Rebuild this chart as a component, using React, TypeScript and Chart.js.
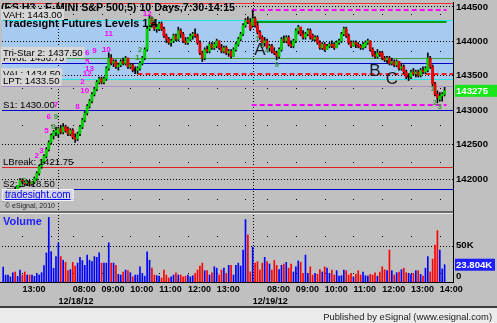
import React, { useEffect, useRef } from 'react';
import { Chart, registerables } from 'chart.js';

Chart.register(...registerables);

const SANS = "'Liberation Sans', Arial, Helvetica, sans-serif";

// ---------- text ----------
const chartTitle = '(ES H3 - E-MINI S&P 500,5) 10 Days,7:30-14:15';
const chartSubtitle = 'Tradesight Futures Levels 1.4';
const footerText = 'Published by eSignal (www.esignal.com)';

// ---------- sessions ----------
const sessionDates = ['12/17/12', '12/18/12', '12/19/12'];
const sessionFirstBar = ['12:20', '07:30', '07:30'];

// ---------- 5-minute bars [open, high, low, close] ----------
const dec17Bars = [
  [141725, 141775, 141675, 141725], [141750, 141800, 141700, 141775], [141775, 141850, 141750, 141800],
  [141800, 141850, 141750, 141800], [141800, 141850, 141775, 141825], [141825, 141875, 141775, 141800],
  [141800, 141900, 141800, 141900], [141900, 142000, 141875, 141975], [141975, 142000, 141925, 141950],
  [141950, 141975, 141900, 141925], [141925, 141975, 141900, 141950], [141950, 141975, 141900, 141925],
  [141925, 141950, 141900, 141950], [141950, 142025, 141925, 142000], [142000, 142100, 141975, 142075],
  [142075, 142200, 142050, 142175], [142175, 142275, 142150, 142250], [142250, 142350, 142225, 142325],
  [142325, 142450, 142300, 142425], [142425, 142550, 142400, 142525], [142525, 142650, 142500, 142625],
  [142625, 142700, 142575, 142675], [142675, 142750, 142625, 142700],
];

const dec18Bars = [
  [142650, 142750, 142600, 142725], [142725, 142775, 142650, 142675], [142675, 142800, 142650, 142750],
  [142750, 142775, 142675, 142700], [142725, 142750, 142625, 142650], [142650, 142725, 142625, 142700],
  [142700, 142725, 142575, 142600], [142600, 142650, 142525, 142575], [142575, 142675, 142550, 142650],
  [142650, 142775, 142625, 142750], [142750, 142875, 142725, 142850], [142850, 142975, 142825, 142950],
  [142950, 143075, 142925, 143050], [143050, 143150, 143025, 143125], [143125, 143250, 143100, 143225],
  [143225, 143325, 143200, 143300], [143300, 143425, 143275, 143400], [143400, 143475, 143375, 143450],
  [143450, 143475, 143375, 143400], [143400, 143475, 143375, 143450], [143450, 143625, 143425, 143600],
  [143600, 143825, 143575, 143750], [143750, 143800, 143650, 143675], [143675, 143725, 143625, 143700],
  [143700, 143725, 143600, 143625], [143625, 143675, 143575, 143650], [143650, 143725, 143625, 143700],
  [143700, 143750, 143650, 143675], [143675, 143775, 143650, 143750], [143750, 143750, 143600, 143625],
  [143625, 143675, 143600, 143650], [143650, 143675, 143550, 143575], [143575, 143625, 143525, 143575],
  [143575, 143625, 143525, 143600], [143600, 143700, 143575, 143675], [143675, 143775, 143650, 143750],
  [143750, 143900, 143725, 143875], [143875, 144200, 143850, 144175], [144175, 144375, 144150, 144325],
  [144325, 144350, 144200, 144250], [144250, 144275, 144150, 144175], [144175, 144225, 144125, 144200],
  [144175, 144275, 144150, 144250], [144250, 144275, 144150, 144175], [144175, 144200, 144050, 144075],
  [144075, 144100, 143975, 144025], [144025, 144050, 143950, 143975], [143975, 144025, 143925, 144000],
  [144000, 144100, 143975, 144075], [144075, 144100, 144000, 144025], [144025, 144200, 144000, 144150],
  [144150, 144175, 144050, 144100], [144100, 144125, 143975, 144000], [144000, 144050, 143950, 143975],
  [143975, 144050, 143950, 144025], [144025, 144100, 144000, 144075], [144075, 144125, 144025, 144100],
  [144100, 144175, 144050, 144075], [144075, 144100, 143950, 143975], [143975, 144000, 143800, 143825],
  [143825, 143850, 143700, 143750], [143750, 143900, 143725, 143875], [143875, 143925, 143825, 143850],
  [143850, 143975, 143825, 143950], [143950, 143975, 143875, 143900], [143900, 143975, 143875, 143950],
  [143925, 144025, 143900, 144000], [144000, 144000, 143875, 143900], [143900, 143950, 143825, 143850],
  [143850, 143925, 143825, 143900], [143900, 143925, 143800, 143825], [143825, 143875, 143775, 143850],
  [143850, 143875, 143750, 143775], [143775, 143900, 143775, 143875], [143875, 143975, 143850, 143950],
  [143950, 144050, 143925, 144025], [144025, 144125, 144000, 144100], [144100, 144250, 144075, 144225],
  [144225, 144325, 144200, 144300], [144300, 144350, 144250, 144275], [144275, 144325, 144150, 144175],
];

const dec19Bars = [
  [144225, 144450, 144200, 144325], [144325, 144350, 144200, 144225], [144225, 144275, 144100, 144125],
  [144125, 144150, 144025, 144050], [144050, 144075, 143950, 143975], [143975, 144050, 143925, 144000],
  [144000, 144025, 143875, 143900], [143900, 143950, 143850, 143925], [143925, 143950, 143825, 143850],
  [143850, 143900, 143800, 143825], [143825, 143850, 143725, 143775], [143775, 143900, 143750, 143875],
  [143875, 144050, 143850, 144025], [144025, 144075, 143975, 144000], [144000, 144075, 143975, 144050],
  [144050, 144075, 143925, 143950], [143950, 144000, 143900, 143925], [143925, 144025, 143900, 144000],
  [144000, 144175, 143975, 144150], [144150, 144225, 144100, 144200], [144200, 144200, 144075, 144100],
  [144100, 144150, 144025, 144050], [144050, 144125, 144025, 144100], [144100, 144175, 144075, 144150],
  [144150, 144175, 144025, 144050], [144075, 144100, 144000, 144025], [144025, 144075, 144000, 144050],
  [144050, 144075, 143950, 143975], [143975, 144000, 143875, 143900], [143900, 143975, 143875, 143950],
  [143950, 143975, 143850, 143875], [143875, 143950, 143875, 143925], [143925, 143975, 143900, 143950],
  [143950, 144000, 143900, 143925], [143950, 143975, 143875, 143900], [143900, 144000, 143900, 143975],
  [143975, 144025, 143950, 144000], [144000, 144125, 143975, 144100], [144100, 144200, 144075, 144175],
  [144175, 144200, 144050, 144075], [144075, 144100, 143950, 143975], [143975, 144000, 143900, 143925],
  [143925, 144000, 143925, 143975], [143975, 144000, 143900, 143950], [143950, 143975, 143900, 143925],
  [143925, 143950, 143875, 143900], [143900, 143975, 143875, 143950], [143925, 144000, 143900, 143975],
  [143975, 144025, 143950, 144000], [144000, 144000, 143850, 143875], [143875, 143900, 143775, 143800],
  [143800, 143850, 143750, 143775], [143775, 143875, 143750, 143825], [143825, 143850, 143775, 143800],
  [143825, 143850, 143725, 143750], [143750, 143775, 143700, 143725], [143725, 143775, 143675, 143750],
  [143750, 143775, 143650, 143675], [143675, 143750, 143650, 143700], [143700, 143725, 143625, 143650],
  [143650, 143725, 143625, 143700], [143700, 143700, 143575, 143600], [143600, 143675, 143575, 143625],
  [143625, 143650, 143525, 143550], [143550, 143575, 143450, 143475], [143475, 143525, 143425, 143475],
  [143475, 143575, 143450, 143550], [143550, 143600, 143500, 143525], [143525, 143575, 143475, 143550],
  [143550, 143575, 143475, 143500], [143500, 143600, 143475, 143575], [143575, 143625, 143525, 143550],
  [143550, 143625, 143525, 143600], [143575, 143825, 143550, 143750], [143750, 143775, 143600, 143625],
  [143625, 143650, 143350, 143375], [143375, 143400, 143200, 143225], [143225, 143275, 143100, 143175],
  [143150, 143250, 143125, 143200], [143200, 143250, 143125, 143225], [143225, 143325, 143200, 143275],
];

// ---------- volume per bar ----------
const dec17Volume = [
  20600, 9600, 9600, 7000, 12800, 13800, 7800, 16500, 9600, 13800, 9600, 9600, 9600, 7800, 12000,
  9600, 12800, 22500, 40000, 89000, 41700, 19000, 35000,
];
const dec18Volume = [
  54000, 35000, 30000, 27000, 15600, 17000, 27000, 22000, 26000, 34000,
  29600, 23000, 37000, 30000, 28000, 35000, 34000, 40000, 26000, 26000,
  26000, 54000, 26000, 26000, 23000, 10600, 9600, 13800, 16500, 15600,
  12800, 7000, 9600, 9600, 21000, 12000, 8000, 41700, 30000, 19000,
  9600, 8700, 8000, 5500, 16500, 9600, 5500, 7000, 9600, 12800,
  9600, 9600, 7000, 8000, 9600, 7000, 8700, 12000, 16500, 22000,
  26000, 15600, 15600, 9600, 12800, 21000, 19000, 9600, 16500, 19000,
  12000, 23000, 23000, 9600, 23000, 26000, 22000, 44000, 86000, 65000, 14000,
];
const dec19Volume = [
  48000, 26000, 28000, 16500, 26000, 34000, 28000, 24800, 16500, 29600,
  23000, 17000, 23000, 24800, 27000, 19000, 24800, 13800, 21000, 29000,
  27000, 12000, 37000, 12000, 21000, 9600, 12000, 10600, 17000, 13800,
  21000, 19000, 12000, 16500, 9600, 15600, 8000, 8700, 16500, 15600,
  9600, 12000, 7000, 10600, 15600, 9600, 13800, 8700, 8000, 10600,
  9600, 12800, 8000, 13800, 21000, 17000, 15600, 44000, 15600, 9600,
  12800, 13800, 17000, 19000, 12800, 12000, 10600, 12000, 15600, 15600,
  10600, 8000, 19000, 35000, 13800, 31600, 51000, 70700, 44000, 18000, 23804,
];

// ---------- axes ----------
const priceTicks = [142000, 142500, 143000, 143500, 144000, 144500];
const volumeTicks = [0, 50000];
const PRICE_MIN = 141515;
const PRICE_MAX = 144565;
const VOLUME_MAX = 96400;
const EMPTY_SLOTS = 3;

// ---------- Tradesight levels ----------
const levelNames = ['VAH', 'Tri-Star 2', 'Pivot', 'VAL', 'LPT', 'S1', 'LBreak', 'S2'];
const levelValues = [144300, 143750, 143675, 143450, 143350, 143000, 142175, 141850];
const upperLevel = 144550;
const todayHigh = 144450;
const todayLow = 143075;
const priorHigh = 144275;
const openGapLevel = 143525;
const openGapFromBar = 56;

// ---------- annotations ----------
const waveLetters = ['A', 'B', 'C'];
const waveBars = [107, 155, 162];
const wavePrices = [143870, 143565, 143435];

const sellCounts: [number, number, string][] = [
  [60, 144400, '12'], [44, 144100, '11'], [43, 143875, '10'], [35, 143825, '6'], [38, 143850, '9'],
  [35, 143700, '5'], [36, 143600, '13'], [35, 143525, '12'], [33, 143400, '2'], [34, 143275, '10'],
  [31, 143050, '8'], [22, 143075, '7'], [19, 142900, '6'], [18, 142700, '5'], [16, 142400, '3'],
  [14, 142325, '2'],
];
const buyCounts: [number, number, string][] = [
  [62, 144300, '3'], [22, 142900, '9'], [21, 142750, '8'], [57, 143875, '2'], [56, 143750, '1'],
  [106, 144025, '1'], [108, 143925, '3'], [110, 143850, '4'], [114, 143650, '9'], [179, 143300, '1'],
  [180, 143100, '2'], [182, 143050, '3'], [9, 141975, '3'],
];

// ---------- styles ----------
const levelColors: Record<string, string> = {
  VAH: '#22e6e6', 'Tri-Star 2': '#3c9f3c', Pivot: '#0000c8', VAL: '#22e6e6',
  LPT: '#a88fcc', S1: '#0000c8', LBreak: '#e02020', S2: '#0000c8',
};
const boxedLevels = ['Pivot', 'VAH', 'Tri-Star 2', 'VAL', 'LPT'];

// ---------- derived tables ----------
const sessions = [dec17Bars, dec18Bars, dec19Bars];
const sessionVolumes = [dec17Volume, dec18Volume, dec19Volume];
const allBars = sessions.flat();
const opens = allBars.map((b) => b[0]);
const closes = allBars.map((b) => b[3]);
const volumes = sessionVolumes.flat();

function addMinutes(hhmm: string, m: number) {
  const [h, mm] = hhmm.split(':').map(Number);
  const t = h * 60 + mm + m;
  return `${String(Math.floor(t / 60)).padStart(2, '0')}:${String(t % 60).padStart(2, '0')}`;
}
const timeLabels: string[] = [];
const sessionOf: number[] = [];
const sessionStarts: number[] = [];
sessions.forEach((bars, s) => {
  sessionStarts.push(timeLabels.length);
  bars.forEach((_, k) => {
    timeLabels.push(addMinutes(sessionFirstBar[s], k * 5));
    sessionOf.push(s);
  });
});
for (let i = 0; i < EMPTY_SLOTS; i++) {
  timeLabels.push('');
  sessionOf.push(-1);
}

const isUp = (i: number) => closes[i] > opens[i];
const isDown = (i: number) => closes[i] < opens[i];

const noPad = (s: any) => {
  s.paddingTop = 0;
  s.paddingBottom = 0;
  s.paddingLeft = 0;
  s.paddingRight = 0;
};

const decor = {
  id: 'esignalDecor',
  beforeDraw(chart: any) {
    const { ctx, width, height, chartArea: a } = chart;
    const xs = chart.scales.x;
    const ys = chart.scales.y;
    ctx.save();
    ctx.fillStyle = '#c0c0c0';
    ctx.fillRect(0, 0, width, height);
    const footerTop = Math.round(xs.bottom);
    ctx.fillStyle = '#ebebeb';
    ctx.fillRect(0, footerTop, width, height - footerTop);
    ctx.fillStyle = '#3c3c3c';
    ctx.fillRect(0, footerTop - 1, width, 2);
    const t = ys.getPixelForValue(levelValues[0]);
    const b = ys.getPixelForValue(levelValues[3]);
    ctx.fillStyle = '#a6caf0';
    ctx.fillRect(a.left, t, a.right - a.left, b - t);
    ctx.restore();
  },
  beforeDatasetsDraw(chart: any) {
    const { ctx, chartArea: a } = chart;
    const xs = chart.scales.x;
    const ys = chart.scales.y;
    const yv = chart.scales.yv;
    const hline = (y: number, x0: number, x1: number, color: string, w: number, dash: number[] = []) => {
      ctx.save();
      ctx.strokeStyle = color;
      ctx.lineWidth = w;
      ctx.setLineDash(dash);
      const yy = w % 2 === 1 ? Math.round(y) + 0.5 : Math.round(y);
      ctx.beginPath();
      ctx.moveTo(x0, yy);
      ctx.lineTo(x1, yy);
      ctx.stroke();
      ctx.restore();
    };
    const vline = (x: number, y0: number, y1: number, color: string, dash: number[]) => {
      ctx.save();
      ctx.strokeStyle = color;
      ctx.lineWidth = 1;
      ctx.setLineDash(dash);
      const xx = Math.round(x) + 0.5;
      ctx.beginPath();
      ctx.moveTo(xx, y0);
      ctx.lineTo(xx, y1);
      ctx.stroke();
      ctx.restore();
    };
    priceTicks.forEach((v) => hline(ys.getPixelForValue(v), a.left, a.right, '#000', 1, [1, 2]));
    hline(yv.getPixelForValue(volumeTicks[1]), a.left, a.right, '#000', 1, [1, 2]);
    timeLabels.forEach((lab, i) => {
      if (lab.endsWith(':00')) vline(xs.getPixelForValue(i), a.top + 12, a.bottom, '#000', [1, 36]);
    });
    sessionStarts.slice(1).forEach((i) => vline(xs.getPixelForValue(i), a.top, a.bottom, '#000', [1, 2]));

    hline(ys.getPixelForValue(upperLevel), a.left, a.right, '#ff3030', 1);
    levelNames.forEach((n, k) => hline(ys.getPixelForValue(levelValues[k]), a.left, a.right, levelColors[n], 1));
    const d2 = sessionStarts[2];
    const last = allBars.length - 1;
    const x2a = xs.getPixelForValue(d2) - 1;
    const x2b = xs.getPixelForValue(last) + 2;
    hline(ys.getPixelForValue(priorHigh), x2a, x2b, '#109a10', 2);
    hline(ys.getPixelForValue(todayHigh), x2a, x2b, '#ff00ff', 2, [5, 3]);
    hline(ys.getPixelForValue(todayLow), x2a, x2b, '#ff00ff', 2, [5, 3]);
    hline(ys.getPixelForValue(openGapLevel), xs.getPixelForValue(openGapFromBar), a.right, '#ff2020', 2, [5, 3]);
  },
  afterDatasetsDraw(chart: any) {
    const { ctx, chartArea: a, width } = chart;
    const xs = chart.scales.x;
    const ys = chart.scales.y;
    const yv = chart.scales.yv;
    ctx.save();
    ctx.textBaseline = 'alphabetic';
    ctx.textAlign = 'left';

    ctx.fillStyle = '#000';
    ctx.font = `bold 10.7px ${SANS}`;
    ctx.fillText(chartTitle, 1, a.top + 9);
    ctx.font = `bold 11px ${SANS}`;
    ctx.fillText(chartSubtitle, 3, a.top + 25);

    ctx.font = `9.6px ${SANS}`;
    const drawLevelLabel = (n: string) => {
      const k = levelNames.indexOf(n);
      const v = levelValues[k];
      const txt = `${n}: ${(v / 100).toFixed(2)}`;
      const base = Math.round(ys.getPixelForValue(v)) - 2;
      const w = ctx.measureText(txt).width;
      if (boxedLevels.includes(n)) {
        ctx.fillStyle = '#d6d6d6';
        ctx.fillRect(1, base - 9, w + 4, 11);
      }
      ctx.fillStyle = '#000';
      ctx.fillText(txt, 3, base);
    };
    ['Pivot', 'Tri-Star 2', 'VAH', 'VAL', 'LPT', 'S1', 'LBreak', 'S2'].forEach(drawLevelLabel);

    const pb = ys.bottom;
    ctx.font = `10px ${SANS}`;
    const wm = 'tradesight.com';
    const wmw = ctx.measureText(wm).width;
    ctx.fillStyle = 'rgba(214,214,236,0.9)';
    ctx.fillRect(2, pb - 23, wmw + 6, 12);
    ctx.strokeStyle = '#f4f4f4';
    ctx.lineWidth = 1;
    ctx.strokeRect(2.5, pb - 22.5, wmw + 5, 11);
    ctx.fillStyle = '#0000ee';
    ctx.fillText(wm, 5, pb - 14);
    ctx.fillRect(5, pb - 13, wmw, 1);
    ctx.fillStyle = '#222';
    ctx.font = `7px ${SANS}`;
    ctx.fillText('\u00a9 eSignal, 2010', 5, pb - 4);

    ctx.textAlign = 'center';
    ctx.textBaseline = 'middle';
    ctx.font = `bold 8px ${SANS}`;
    ctx.fillStyle = '#ff00ff';
    sellCounts.forEach(([i, p, t]) => ctx.fillText(t, xs.getPixelForValue(i), ys.getPixelForValue(p)));
    ctx.fillStyle = '#3c963c';
    buyCounts.forEach(([i, p, t]) => ctx.fillText(t, xs.getPixelForValue(i), ys.getPixelForValue(p)));

    ctx.font = `17px ${SANS}`;
    ctx.fillStyle = '#1c1c1c';
    waveLetters.forEach((l, k) => ctx.fillText(l, xs.getPixelForValue(waveBars[k]), ys.getPixelForValue(wavePrices[k])));

    ctx.fillStyle = '#6a6a6a';
    ctx.fillRect(0, Math.round(pb) - 1, a.right, 2);
    ctx.fillStyle = '#efefef';
    ctx.fillRect(0, Math.round(pb) + 1, a.right, 1);
    ctx.fillStyle = '#000';
    ctx.fillRect(Math.round(a.right), a.top, 1, a.bottom - a.top + 1);
    ctx.fillRect(0, Math.round(a.bottom), a.right, 1);

    ctx.textAlign = 'left';
    ctx.textBaseline = 'alphabetic';
    ctx.font = `bold 11px ${SANS}`;
    ctx.fillStyle = '#2020ff';
    ctx.fillText('Volume', 3, pb + 13);

    // right price axis labels (positions from the library's y scale)
    const ax = a.right + 2;
    ctx.textBaseline = 'middle';
    ctx.font = `bold 9.6px ${SANS}`;
    ctx.fillStyle = '#000';
    priceTicks.forEach((v) => ctx.fillText(String(v), ax + 1, ys.getPixelForValue(v) + 0.5));

    const lastClose = closes[closes.length - 1];
    const yc = ys.getPixelForValue(lastClose);
    ctx.fillStyle = '#19e619';
    ctx.fillRect(ax, yc - 6, width - ax, 12);
    ctx.fillStyle = '#fff';
    ctx.fillText(String(lastClose), ax + 1, yc + 0.5);

    ctx.fillStyle = '#000';
    ctx.fillText(`${volumeTicks[1] / 1000}K`, ax + 1, yv.getPixelForValue(volumeTicks[1]));
    ctx.fillText(String(volumeTicks[0]), ax + 1, yv.getPixelForValue(volumeTicks[0]) - 6);
    const lastVol = volumes[volumes.length - 1];
    const yl = yv.getPixelForValue(lastVol);
    ctx.fillStyle = '#1e1eff';
    ctx.fillRect(ax, yl - 6, 40, 12);
    ctx.fillStyle = '#fff';
    ctx.fillText(`${(lastVol / 1000).toFixed(3)}K`, ax + 1, yl + 0.5);

    ctx.textAlign = 'right';
    ctx.textBaseline = 'alphabetic';
    ctx.font = `9.4px ${SANS}`;
    ctx.fillStyle = '#1a1a1a';
    ctx.fillText(footerText, width - 5, chart.height - 3);
    ctx.restore();
  },
};

export default function App() {
  const ref = useRef<HTMLCanvasElement>(null);
  useEffect(() => {
    document.body.style.margin = '0';
    const canvas = ref.current!;
    const lastSession = sessions.length - 1;
    const chart = new Chart(canvas, {
      type: 'bar',
      data: {
        labels: timeLabels,
        datasets: [
          {
            label: 'Body',
            data: allBars.map((b) => [b[0], b[3]]),
            yAxisID: 'y',
            grouped: false,
            barThickness: 2.2,
            minBarLength: 1,
            backgroundColor: (c: any) => (isUp(c.dataIndex) ? '#00d000' : isDown(c.dataIndex) ? '#e80000' : '#000'),
            borderWidth: 0,
            order: 1,
          } as any,
          {
            label: 'Wick',
            data: allBars.map((b) => [b[2], b[1]]),
            yAxisID: 'y',
            grouped: false,
            barThickness: 1,
            backgroundColor: '#000',
            borderWidth: 0,
            order: 2,
          } as any,
          {
            label: 'Volume',
            data: volumes,
            yAxisID: 'yv',
            grouped: false,
            barThickness: 1,
            backgroundColor: (c: any) => (isDown(c.dataIndex) ? '#ff0000' : '#0000ff'),
            borderWidth: 0,
            order: 3,
          } as any,
        ],
      },
      options: {
        responsive: false,
        devicePixelRatio: 1,
        animation: false,
        events: [],
        layout: { padding: { left: 2, top: 2, right: 0, bottom: 16 } },
        plugins: { legend: { display: false }, tooltip: { enabled: false } },
        scales: {
          x: {
            type: 'category',
            offset: true,
            grid: { display: false, drawTicks: false },
            border: { display: false },
            afterFit: (s: any) => {
              s.height = 25;
              noPad(s);
            },
            ticks: {
              autoSkip: false,
              maxRotation: 0,
              minRotation: 0,
              align: 'start',
              padding: 1,
              color: '#000',
              font: { family: SANS, size: 9, weight: 'bold', lineHeight: 1.34 },
              callback: (_v: any, i: number) => {
                const s = sessionOf[i];
                if (s > 0 && sessionStarts[s] === i) return ['', sessionDates[s]];
                const lab = timeLabels[i];
                if (!lab.endsWith(':00')) return '';
                if (lab === '14:00' && s < lastSession) return '';
                return lab;
              },
            },
          },
          y: {
            type: 'linear',
            position: 'right',
            stack: 'panes',
            stackWeight: 3,
            min: PRICE_MIN,
            max: PRICE_MAX,
            grid: { display: false, drawTicks: false },
            border: { display: false },
            afterFit: (s: any) => {
              s.width = 44;
              noPad(s);
            },
            ticks: { display: false, stepSize: 500 },
          },
          yv: {
            type: 'linear',
            position: 'right',
            stack: 'panes',
            stackWeight: 1,
            min: 0,
            max: VOLUME_MAX,
            grid: { display: false, drawTicks: false },
            border: { display: false },
            afterFit: (s: any) => {
              s.width = 44;
              noPad(s);
            },
            ticks: { display: false },
          },
        },
      } as any,
      plugins: [decor],
    });
    return () => chart.destroy();
  }, []);
  return (
    <div style={{ position: 'fixed', left: 0, top: 0, width: 497, height: 323 }}>
      <canvas ref={ref} width={497} height={323} style={{ width: 497, height: 323, display: 'block' }} />
    </div>
  );
}
